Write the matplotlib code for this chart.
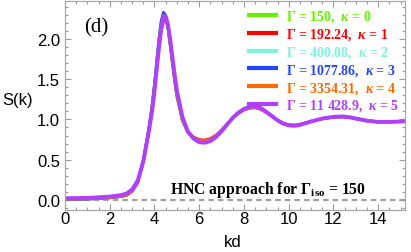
import matplotlib
matplotlib.use("Agg")
import matplotlib.pyplot as plt
from matplotlib.ticker import MultipleLocator

plt.rcParams['font.family'] = ['Liberation Sans', 'DejaVu Sans']
plt.rcParams['mathtext.fontset'] = 'custom'
plt.rcParams['mathtext.rm'] = 'Liberation Serif:bold'
plt.rcParams['mathtext.bf'] = 'Liberation Serif:bold'
plt.rcParams['mathtext.it'] = 'Liberation Serif:bold:italic'

k = [0, 1, 2, 2.5, 2.75, 3, 3.25, 3.5, 3.75, 3.9, 4.0, 4.1, 4.2, 4.3, 4.4, 4.5, 4.6, 4.7,
     4.8, 4.9, 5.0, 5.25, 5.5, 5.75, 6.0, 6.25, 6.5, 6.75, 7.0, 7.25, 7.5, 7.75, 8.0, 8.25,
     8.5, 8.75, 9.0, 9.25, 9.5, 9.75, 10.0, 10.25, 10.5, 10.75, 11.0, 11.5, 12.0, 12.4,
     12.75, 13.0, 13.5, 14.0, 14.5, 15.0, 15.25]

s_green = [0.008, 0.012, 0.028, 0.044, 0.06, 0.11, 0.22, 0.49, 0.89, 1.18, 1.43, 1.72, 1.99,
           2.21, 2.31, 2.27, 2.13, 1.92, 1.69, 1.47, 1.28, 0.98, 0.846, 0.774, 0.741, 0.736,
           0.755, 0.798, 0.866, 0.942, 1.019, 1.077, 1.120, 1.144, 1.149, 1.130, 1.086, 1.038,
           0.990, 0.952, 0.933, 0.928, 0.938, 0.957, 0.976, 1.010, 1.029, 1.034, 1.024, 1.010,
           0.986, 0.971, 0.971, 0.976, 0.979]
s_red = [0.008, 0.012, 0.028, 0.043, 0.058, 0.105, 0.21, 0.47, 0.86, 1.13, 1.36, 1.63, 1.89,
         2.10, 2.22, 2.24, 2.14, 1.96, 1.74, 1.52, 1.32, 1.00, 0.851, 0.781, 0.749, 0.744,
         0.763, 0.805, 0.870, 0.944, 1.019, 1.074, 1.116, 1.140, 1.144, 1.126, 1.084, 1.037,
         0.991, 0.954, 0.935, 0.930, 0.940, 0.958, 0.977, 1.009, 1.028, 1.033, 1.023, 1.009,
         0.986, 0.972, 0.972, 0.977, 0.980]
s_cyan = [0.008, 0.012, 0.028, 0.044, 0.06, 0.11, 0.22, 0.48, 0.88, 1.17, 1.42, 1.70, 1.97,
          2.19, 2.30, 2.27, 2.13, 1.93, 1.70, 1.48, 1.29, 0.985, 0.843, 0.770, 0.735, 0.730,
          0.750, 0.794, 0.863, 0.941, 1.020, 1.078, 1.123, 1.147, 1.152, 1.132, 1.088, 1.039,
          0.990, 0.951, 0.931, 0.926, 0.936, 0.956, 0.975, 1.010, 1.029, 1.034, 1.025, 1.010,
          0.985, 0.971, 0.971, 0.975, 0.978]
s_blue = [0.008, 0.012, 0.028, 0.044, 0.06, 0.11, 0.22, 0.49, 0.89, 1.19, 1.44, 1.73, 2.00,
          2.22, 2.33, 2.29, 2.15, 1.94, 1.71, 1.49, 1.30, 0.99, 0.838, 0.763, 0.727, 0.722,
          0.742, 0.788, 0.859, 0.939, 1.020, 1.081, 1.126, 1.152, 1.157, 1.136, 1.091, 1.040,
          0.990, 0.950, 0.929, 0.924, 0.934, 0.955, 0.975, 1.010, 1.030, 1.035, 1.025, 1.010,
          0.985, 0.970, 0.970, 0.975, 0.978]
s_orange = [0.010, 0.014, 0.03, 0.045, 0.06, 0.11, 0.22, 0.48, 0.88, 1.16, 1.40, 1.68, 1.95,
            2.17, 2.29, 2.27, 2.14, 1.94, 1.71, 1.49, 1.30, 0.99, 0.84, 0.765, 0.73, 0.725,
            0.745, 0.79, 0.86, 0.94, 1.02, 1.08, 1.125, 1.15, 1.155, 1.135, 1.09, 1.04,
            0.99, 0.95, 0.93, 0.925, 0.935, 0.955, 0.975, 1.01, 1.03, 1.035, 1.025, 1.01,
            0.985, 0.97, 0.97, 0.975, 0.978]
s_purple = [0.022, 0.026, 0.042, 0.06, 0.08, 0.13, 0.24, 0.48, 0.85, 1.12, 1.35, 1.62, 1.89,
            2.12, 2.26, 2.28, 2.18, 2.00, 1.78, 1.56, 1.36, 1.03, 0.845, 0.762, 0.717, 0.711,
            0.732, 0.780, 0.853, 0.937, 1.021, 1.084, 1.131, 1.158, 1.163, 1.142, 1.095, 1.042,
            0.990, 0.948, 0.927, 0.921, 0.932, 0.953, 0.974, 1.011, 1.032, 1.037, 1.026, 1.011,
            0.984, 0.969, 0.969, 0.974, 0.977]

hnc_k = [0, 15.25]
hnc_s = [0.0, 0.0]

labels = [r'$\Gamma$ = 150,  $\kappa$ = 0',
          r'$\Gamma$ = 192.24,  $\kappa$ = 1',
          r'$\Gamma$ = 400.08,  $\kappa$ = 2',
          r'$\Gamma$ = 1077.86,  $\kappa$ = 3',
          r'$\Gamma$ = 3354.31,  $\kappa$ = 4',
          r'$\Gamma$ = 11 428.9,  $\kappa$ = 5']
series = [s_green, s_red, s_cyan, s_blue, s_orange, s_purple]
colors = ['#66f000', '#ff0000', '#7af5dc', '#2446ff', '#ff6a00', '#b040ff']
widths = [2.0, 2.0, 2.0, 2.0, 2.0, 2.8]

fig = plt.figure(figsize=(4.11, 2.53), dpi=100)
ax = fig.add_axes([65/411, 1-211/253, 340/411, 209/253])

ax.plot(hnc_k, hnc_s, color='#a0a0a0', lw=1.6, ls=(0, (2.5, 1.8)), zorder=1)
for s, c, w, lab in zip(series, colors, widths, labels):
    ax.plot(k, s, color=c, lw=w, label=lab, solid_capstyle='butt', zorder=2)

ax.set_xlim(0, 15.2)
ax.set_ylim(-0.124, 2.47)
ax.xaxis.set_major_locator(MultipleLocator(2))
ax.xaxis.set_minor_locator(MultipleLocator(0.5))
ax.yaxis.set_major_locator(MultipleLocator(0.5))
ax.yaxis.set_minor_locator(MultipleLocator(0.1))
ax.tick_params(which='both', direction='in', top=True, right=True, color='#9a9a9a',
               width=0.8, labelsize=12)
ax.tick_params(which='major', length=4.5)
ax.tick_params(which='minor', length=2.5)
ax.tick_params(axis='x', pad=1)
ax.tick_params(axis='y', pad=3.5)
for sp in ax.spines.values():
    sp.set_color('#a8a8a8')
    sp.set_linewidth(0.9)

ax.set_xlabel('kd', fontsize=12, va='center')
ax.xaxis.set_label_coords(0.494, -0.153)
ax.set_ylabel('S(k)', fontsize=12, rotation=0, ha='right', va='center')
ax.yaxis.set_label_coords(-0.095, 0.531)

leg = ax.legend(loc='upper left', bbox_to_anchor=(247/411, 1-9.5/253),
                bbox_transform=fig.transFigure, frameon=False, borderpad=0,
                borderaxespad=0, handlelength=2.2, handletextpad=0.6, labelspacing=0.13,
                prop={'family': 'Liberation Serif', 'weight': 'bold', 'size': 10},
                labelcolor='linecolor')
for line in leg.get_lines():
    line.set_linewidth(3.0)

ax.text(0.091, 0.876, '(d)', transform=ax.transAxes, ha='center', va='center',
        fontsize=15, family='Liberation Serif')
ax.text(0.309, 0.1005, r'HNC approach for $\Gamma_{\rm iso}$ = 150', transform=ax.transAxes,
        ha='left', va='center', fontsize=11.3, family='Liberation Serif', weight='bold')

fig.savefig('out.png', dpi=100)
